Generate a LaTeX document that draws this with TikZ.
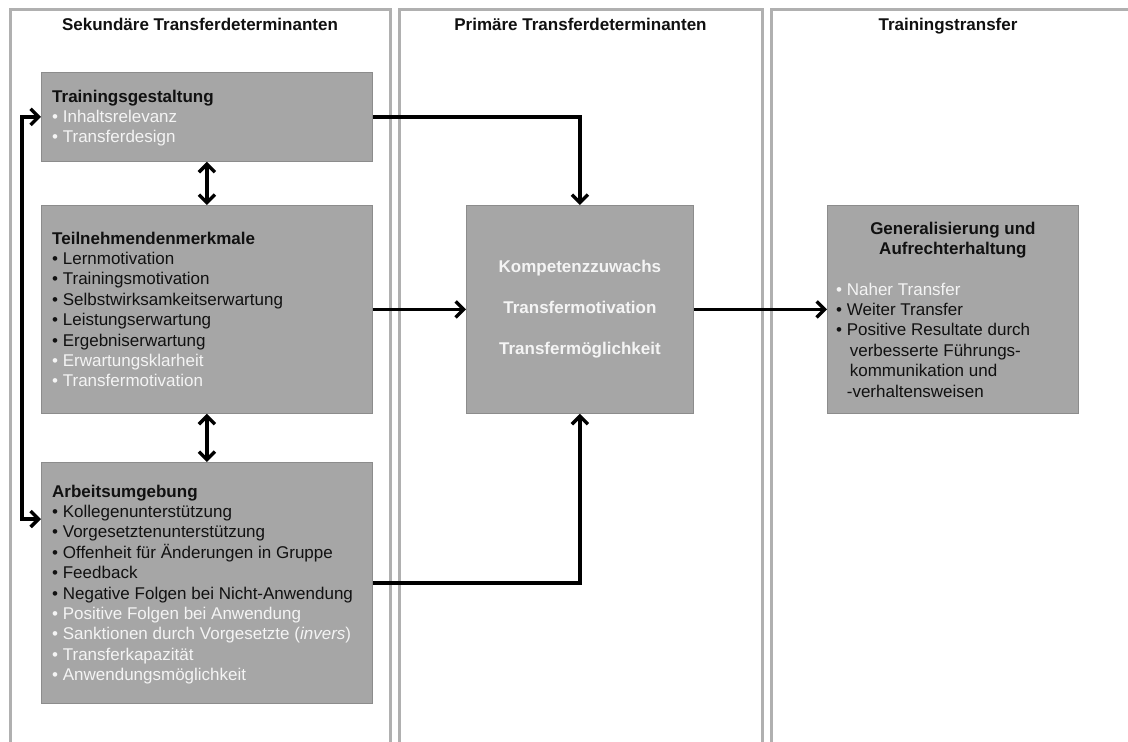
\documentclass[tikz,border=0pt]{standalone}
\usepackage{fontspec}
\setmainfont{Liberation Sans}
\usetikzlibrary{arrows.meta}

\definecolor{panelline}{HTML}{B0B0B0}
\definecolor{boxfill}{HTML}{A6A6A6}
\definecolor{boxline}{HTML}{8C8C8C}
\definecolor{lighttext}{HTML}{F4F4F4}
\definecolor{darktext}{HTML}{111111}

% light (white) list entry
\newcommand\hell[1]{{\color{lighttext}#1}}

\begin{document}
\begin{tikzpicture}[
  x=1pt, y=-1pt,
  panel/.style={draw=panelline, line width=3pt},
  paneltitle/.style={anchor=base, inner sep=0pt, font=\bfseries\fontsize{17}{20.4}\selectfont, text=darktext},
  box/.style={draw=boxline, fill=boxfill, line width=0.8pt, anchor=north west, inner sep=0pt},
  txt/.style={anchor=north west, inner sep=0pt, align=left, font=\fontsize{17}{20.4}\selectfont, text=darktext},
  arr/.style={line width=3.4pt, -{Straight Barb[length=8pt,width=16pt]}},
  dblarr/.style={line width=3.4pt, {Straight Barb[length=8pt,width=16pt]}-{Straight Barb[length=8pt,width=16pt]}}
]
\useasboundingbox (0,0) rectangle (1128,742);
\fill[white] (0,0) rectangle (1128,742);

% three columns, open at the bottom
\draw[panel] (10,750) -- (10,9) -- (390,9) -- (390,750);
\draw[panel] (399,750) -- (399,9) -- (762,9) -- (762,750);
\draw[panel] (771,750) -- (771,9) -- (1135,9);

\node[paneltitle] (t1) at (200,30) {Sekundäre Transferdeterminanten};
\node[paneltitle] (t2) at (580.5,30) {Primäre Transferdeterminanten};
\node[paneltitle] (t3) at (948,30) {Trainingstransfer};

% boxes
\node[box, minimum width=331pt, minimum height=89pt] (tg) at (41,72) {};
\node[box, minimum width=331pt, minimum height=208pt] (tm) at (41,205) {};
\node[box, minimum width=331pt, minimum height=241pt] (au) at (41,462) {};
\node[box, minimum width=227pt, minimum height=208pt] (kern) at (466,205) {};
\node[box, minimum width=251pt, minimum height=208pt] (gen) at (827,205) {};

% box contents
\node[txt] (tgtxt) at ([shift={(11,17.6)}]tg.north west)
  {\textbf{Trainingsgestaltung}\\
   \hell{• Inhaltsrelevanz}\\
   \hell{• Transferdesign}};

\node[txt] (tmtxt) at ([shift={(11,26.6)}]tm.north west)
  {\textbf{Teilnehmendenmerkmale}\\
   • Lernmotivation\\
   • Trainingsmotivation\\
   • Selbstwirksamkeitserwartung\\
   • Leistungserwartung\\
   • Ergebniserwartung\\
   \hell{• Erwartungsklarheit}\\
   \hell{• Transfermotivation}};

\node[txt] (autxt) at ([shift={(11,22.6)}]au.north west)
  {\textbf{Arbeitsumgebung}\\
   • Kollegenunterstützung\\
   • Vorgesetztenunterstützung\\
   • Offenheit für Änderungen in Gruppe\\
   • Feedback\\
   • Negative Folgen bei Nicht-Anwendung\\
   \hell{• Positive Folgen bei Anwendung}\\
   \hell{• Sanktionen durch Vorgesetzte (\textit{invers})}\\
   \hell{• Transferkapazität}\\
   \hell{• Anwendungsmöglichkeit}};

\node[inner sep=0pt, align=center, font=\bfseries\fontsize{17}{41}\selectfont, text=lighttext] (kerntxt) at (kern.center)
  {Kompetenzzuwachs\\Transfermotivation\\Transfermöglichkeit};

\node[inner sep=0pt, anchor=north, align=center, font=\bfseries\fontsize{17}{20.4}\selectfont, text=darktext] (genhead) at ([yshift=-16.6pt]gen.north)
  {Generalisierung und\\Aufrechterhaltung};

\node[txt] (gentxt) at ([shift={(9,77.6)}]gen.north west)
  {\hell{• Naher Transfer}\\
   • Weiter Transfer\\
   • Positive Resultate durch\\
   \hphantom{• }\hspace{3pt}verbesserte Führungs-\\
   \hphantom{• }\hspace{3pt}kommunikation und\\
   \hphantom{• }-verhaltensweisen};

% connectors
\draw[dblarr] (tg.south) -- (tm.north);
\draw[dblarr] (tm.south) -- (au.north);
\draw[dblarr] (tg.west) -- ++(-19,0) |- ([yshift=-57pt]au.north west);
\draw[arr] (tg.east) -| (kern.north);
\draw[arr] (tm.east) -- (kern.west);
\draw[arr] (au.east) -| (kern.south);
\draw[arr] (kern.east) -- (gen.west);
\end{tikzpicture}
\end{document}
